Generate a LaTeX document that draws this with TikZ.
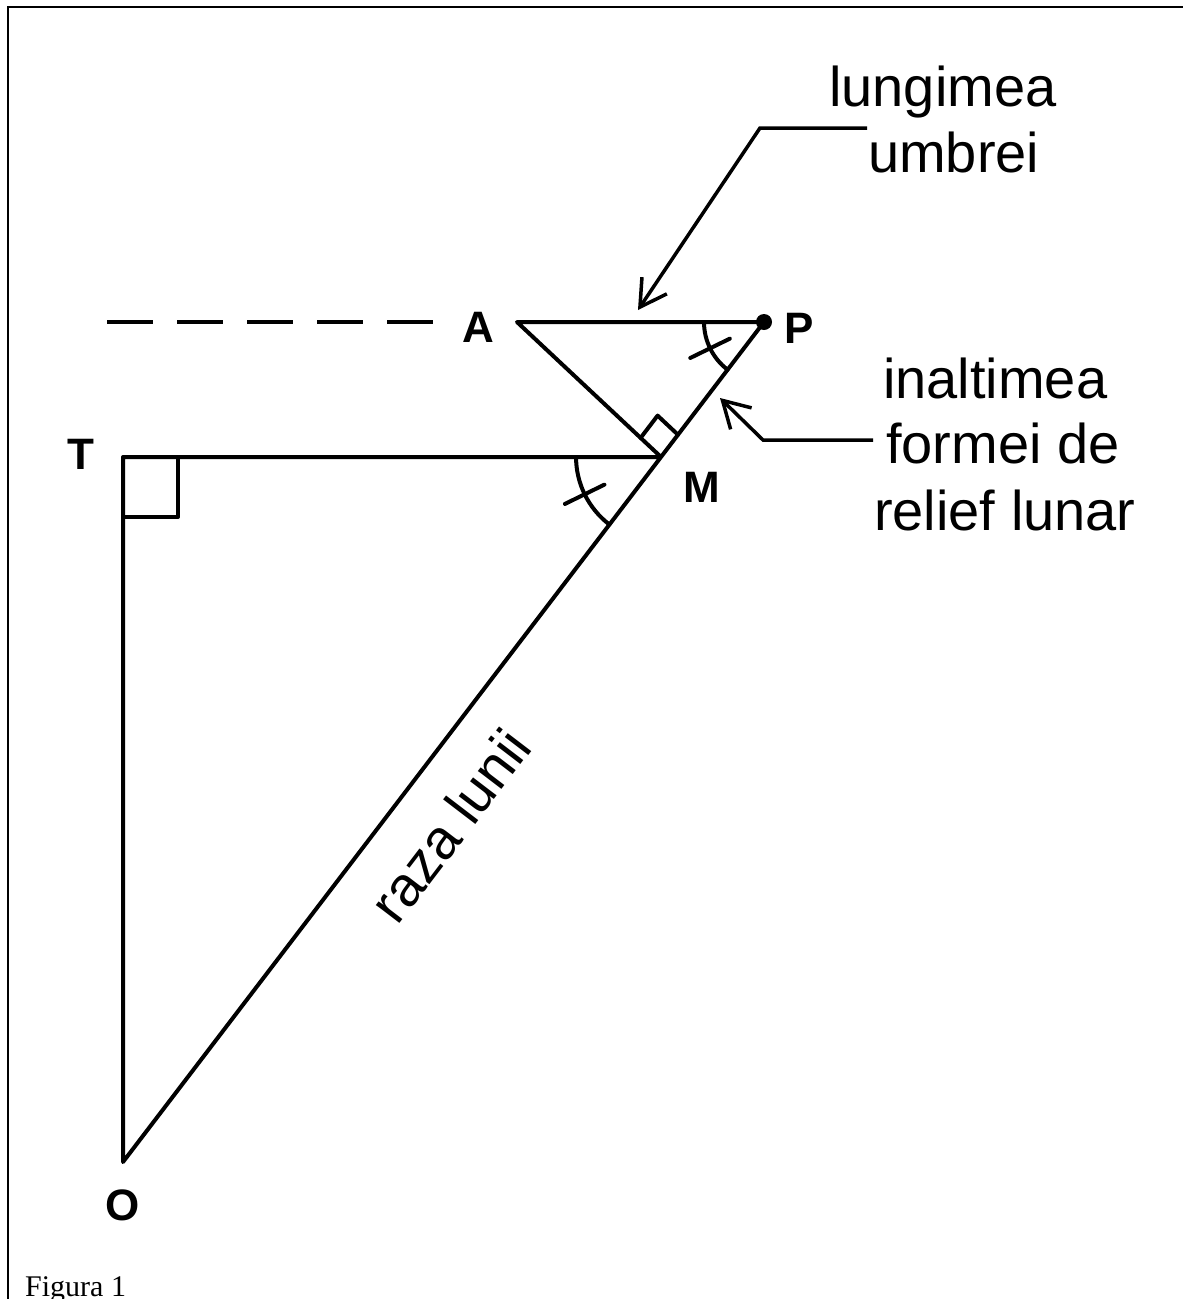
\documentclass[tikz,border=0pt]{standalone}
\usepackage{fontspec}
\setmainfont{Liberation Sans}
\newfontfamily\figserif{Liberation Serif}
\usetikzlibrary{arrows.meta,calc}
\begin{document}
\begin{tikzpicture}[x=1pt,y=1pt,
  geo/.style={line width=4pt, line cap=round, line join=round},
  lbl/.style={font=\fontsize{44}{44}\selectfont\bfseries, inner sep=0pt},
  txt/.style={font=\fontsize{56}{66}\selectfont, inner sep=0pt, anchor=base west},
  callout/.style={line width=3.5pt, line join=miter, -{Straight Barb[length=26pt,width=30pt,line width=3.5pt]}},
]
\useasboundingbox (0,0) rectangle (1183,-1299);
% frame
\draw[line width=2pt] (8,-1299) -- (8,-7) -- (1183,-7);

% points
\coordinate (O) at (123,-1162);
\coordinate (T) at (123,-457);
\coordinate (P) at (764,-322);
\coordinate (A) at (517,-322);
\coordinate (M) at (intersection cs: first line={(T)--(1000,-457)}, second line={(O)--(P)});

% triangles
\draw[geo] (M) -- (T) -- (O) -- (P) -- (A) -- (M);

% right angle at T
\draw[geo] ($(T)+(0,-60)$) -- ++(55,0) -- ++(0,60);

% right angle at M
\coordinate (ma) at ($(M)!28pt!(A)$);
\coordinate (mp) at ($(M)!28pt!(P)$);
\coordinate (mc) at ($(ma)+(mp)-(M)$);
\draw[geo] (ma) -- (mc) -- (mp);

% angle at P
\draw[geo] ($(P)+(180:60)$) arc[start angle=180, end angle=232.6, radius=60];
\draw[geo] ($(P)+(206:38)$) -- ($(P)+(206:82)$);
% angle at M
\draw[geo] ($(M)+(180:85)$) arc[start angle=180, end angle=232.6, radius=85];
\draw[geo] ($(M)+(206:63)$) -- ($(M)+(206:107)$);

% dot at P
\fill (P) circle[radius=8];

% dashed extension
\coordinate (d1) at (107,-322);
\coordinate (d2) at (433,-322);
\draw[line width=4pt, dash pattern=on 46pt off 24pt] (d1) -- (d2);

% point labels
\node[lbl] (lA) at (478,-327) {A};
\node[lbl] (lP) at (799,-328) {P};
\node[lbl] (lT) at (81,-454) {T};
\node[lbl] (lM) at (702,-487) {M};
\node[lbl] (lO) at (123,-1205) {O};

% texts
\node[txt] (t1) at (829,-106) {lungimea};
\node[txt] (t2) at (868,-172) {umbrei};
\node[txt] (t3) at (883,-398) {inaltimea};
\node[txt] (t4) at (886,-463) {formei de};
\node[txt] (t5) at (874,-530) {relief lunar};
\node[font=\fontsize{56}{56}\selectfont, rotate=52.6, inner sep=0pt] (raza) at (450,-825) {raza lunii};
\node[font=\figserif\fontsize{30}{30}\selectfont, anchor=base west, inner sep=0pt] (fig) at (25,-1296) {Figura 1};

% callouts
\coordinate (c1s) at (867,-128);
\coordinate (c1b) at (760,-128);
\coordinate (c1t) at (638,-310);
\draw[callout] (c1s) -- (c1b) -- (c1t);
\coordinate (c2s) at (873,-440);
\coordinate (c2b) at (763,-440);
\coordinate (c2t) at (720,-398);
\draw[callout] (c2s) -- (c2b) -- (c2t);
\end{tikzpicture}
\end{document}
